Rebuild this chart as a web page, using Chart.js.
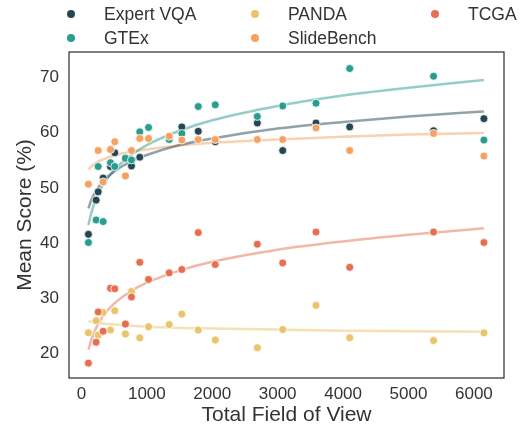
<!DOCTYPE html>
<html>
<head>
<meta charset="utf-8">
<script src="https://cdn.jsdelivr.net/npm/chart.js@4/dist/chart.umd.min.js"></script>
<style>
  html, body { margin: 0; padding: 0; background: #fff; }
  #wrap { width: 520px; height: 429px; position: relative; }
</style>
</head>
<body>
<div id="wrap"><canvas id="c"></canvas></div>
<script>
// shared x positions (total field of view)
const fov = [107, 225, 256, 332, 444, 510, 674, 765, 892, 1026, 1342, 1535, 1786, 2046, 2689, 3077, 3586, 4101, 5383, 6153]

const expertVqa = [41.3, 47.5, 49.0, 51.5, 53.6, 56.1, null, 53.7, 55.3, null, null, 60.8, 60.0, 58.1, 61.5, 56.5, 61.5, 60.8, 60.1, 62.3]
const gtex = [39.8, 43.9, 53.6, 43.6, 54.3, 53.6, 55.1, 54.8, 59.9, 60.7, 58.5, 59.6, 64.5, 64.8, 62.7, 64.6, 65.1, 71.4, 70.0, 58.4]
const panda = [23.4, 25.6, 23.0, 27.1, 23.9, 27.4, 23.2, 30.9, 22.5, 24.5, 24.9, 26.8, 23.9, 22.1, 20.7, 24.0, 28.4, 22.5, 22.0, 23.4]
const slideBench = [50.4, null, 56.5, 50.8, 56.7, 58.1, 51.9, 56.5, 58.7, 58.7, 59.1, 58.4, 58.5, 58.5, 58.5, 58.5, 60.6, 56.5, 59.6, 55.5]
const tcga = [17.9, 21.7, 27.2, 23.7, 31.5, 31.4, 25.0, 29.9, 36.2, 33.1, 34.3, 34.9, 41.6, 35.8, 39.5, 36.1, 41.7, 35.3, 41.7, 39.8]

// fitted trend curves
const trendX = [107, 150, 225, 332, 500, 750, 1000, 1500, 2000, 3000, 4000, 5000, 6153]
const expertTrend = [46.0, 47.5, 49.2, 50.9, 52.7, 54.5, 55.7, 57.5, 58.7, 60.5, 61.7, 62.7, 63.6]
const gtexTrend = [43.0, 45.2, 47.8, 50.3, 53.0, 55.6, 57.5, 60.1, 62.0, 64.6, 66.5, 67.9, 69.3]
const pandaTrend = [25.6, 25.4, 25.2, 25.1, 24.9, 24.7, 24.5, 24.3, 24.2, 24.0, 23.8, 23.7, 23.6]
const slideTrend = [53.1, 53.6, 54.3, 54.9, 55.6, 56.3, 56.7, 57.4, 57.9, 58.5, 59.0, 59.4, 59.7]
const tcgaTrend = [20.3, 22.1, 24.3, 26.5, 28.7, 30.9, 32.5, 34.7, 36.3, 38.5, 40.0, 41.2, 42.4]

const xTicks = [0, 1000, 2000, 3000, 4000, 5000, 6000]
const yTicks = [20, 30, 40, 50, 60, 70]

const series = [
  { name: "Expert VQA", values: expertVqa, trend: expertTrend, color: "#264653", fade: "rgba(38,70,83,0.5)" },
  { name: "GTEx", values: gtex, trend: gtexTrend, color: "#2a9d8f", fade: "rgba(42,157,143,0.5)" },
  { name: "PANDA", values: panda, trend: pandaTrend, color: "#e9c46a", fade: "rgba(233,196,106,0.5)" },
  { name: "SlideBench", values: slideBench, trend: slideTrend, color: "#f4a261", fade: "rgba(244,162,97,0.5)" },
  { name: "TCGA", values: tcga, trend: tcgaTrend, color: "#e76f51", fade: "rgba(231,111,81,0.5)" }
]

const font = "'Liberation Sans', Arial, sans-serif"
const textColor = "#333333"

const datasets = []
series.forEach((s, i) => {
  datasets.push({
    type: "scatter",
    label: s.name,
    data: fov.map((x, j) => s.values[j] == null ? null : { x: x, y: s.values[j] }).filter(p => p),
    backgroundColor: s.color,
    borderColor: "#ffffff",
    borderWidth: 0.8,
    pointRadius: 4,
    order: 5 - i
  })
})
series.forEach(s => {
  datasets.push({
    type: "line",
    label: s.name + " fit",
    data: trendX.map((x, j) => ({ x: x, y: s.trend[j] })),
    borderColor: s.fade,
    borderWidth: 2.5,
    pointRadius: 0,
    fill: false,
    cubicInterpolationMode: "monotone",
    order: 10
  })
})

// legend laid out in columns like the original
const legendPlugin = {
  id: "colLegend",
  afterDraw(chart) {
    const ctx = chart.ctx
    const cols = [71, 255, 435]
    const rows = [14, 38]
    ctx.save()
    ctx.font = "17.5px " + font
    ctx.textBaseline = "middle"
    series.forEach((s, i) => {
      const col = Math.floor(i / 2), row = i % 2
      const cx = cols[col], cy = rows[row]
      ctx.beginPath()
      ctx.arc(cx, cy, 4, 0, Math.PI * 2)
      ctx.fillStyle = s.color
      ctx.fill()
      ctx.fillStyle = textColor
      ctx.fillText(s.name, cx + 33, cy + 1)
    })
    ctx.restore()
  }
}

const framePlugin = {
  id: "frame",
  afterDraw(chart) {
    const a = chart.chartArea
    const ctx = chart.ctx
    ctx.save()
    ctx.strokeStyle = "#333333"
    ctx.lineWidth = 1.25
    ctx.strokeRect(a.left, a.top, a.right - a.left, a.bottom - a.top)
    ctx.restore()
  }
}

new Chart(document.getElementById("c"), {
  type: "scatter",
  data: { datasets: datasets },
  options: {
    responsive: true,
    maintainAspectRatio: false,
    animation: false,
    layout: { padding: { top: 52, right: 16, left: 0, bottom: 0 } },
    plugins: {
      legend: { display: false },
      tooltip: { enabled: false }
    },
    scales: {
      x: {
        type: "linear",
        min: -190,
        max: 6460,
        afterBuildTicks: scale => { scale.ticks = xTicks.map(v => ({ value: v })) },
        afterFit: scale => { scale.height = 51 },
        grid: { display: false, drawTicks: false },
        border: { display: false },
        ticks: { color: textColor, font: { family: font, size: 17 }, padding: 6, callback: v => String(v) },
        title: {
          display: true,
          text: "Total Field of View",
          color: textColor,
          font: { family: font, size: 21 },
          padding: { top: 0, bottom: 1 }
        }
      },
      y: {
        min: 15.2,
        max: 74.4,
        afterBuildTicks: scale => { scale.ticks = yTicks.map(v => ({ value: v })) },
        afterFit: scale => { scale.width = 69 },
        grid: { display: false, drawTicks: false },
        border: { display: false },
        ticks: { color: textColor, font: { family: font, size: 17 }, padding: 10, labelOffset: 1.5, callback: v => String(v) },
        title: {
          display: true,
          text: "Mean Score (%)",
          color: textColor,
          font: { family: font, size: 21 },
          padding: { top: 13, bottom: 0 }
        }
      }
    }
  },
  plugins: [legendPlugin, framePlugin]
})
</script>
</body>
</html>
